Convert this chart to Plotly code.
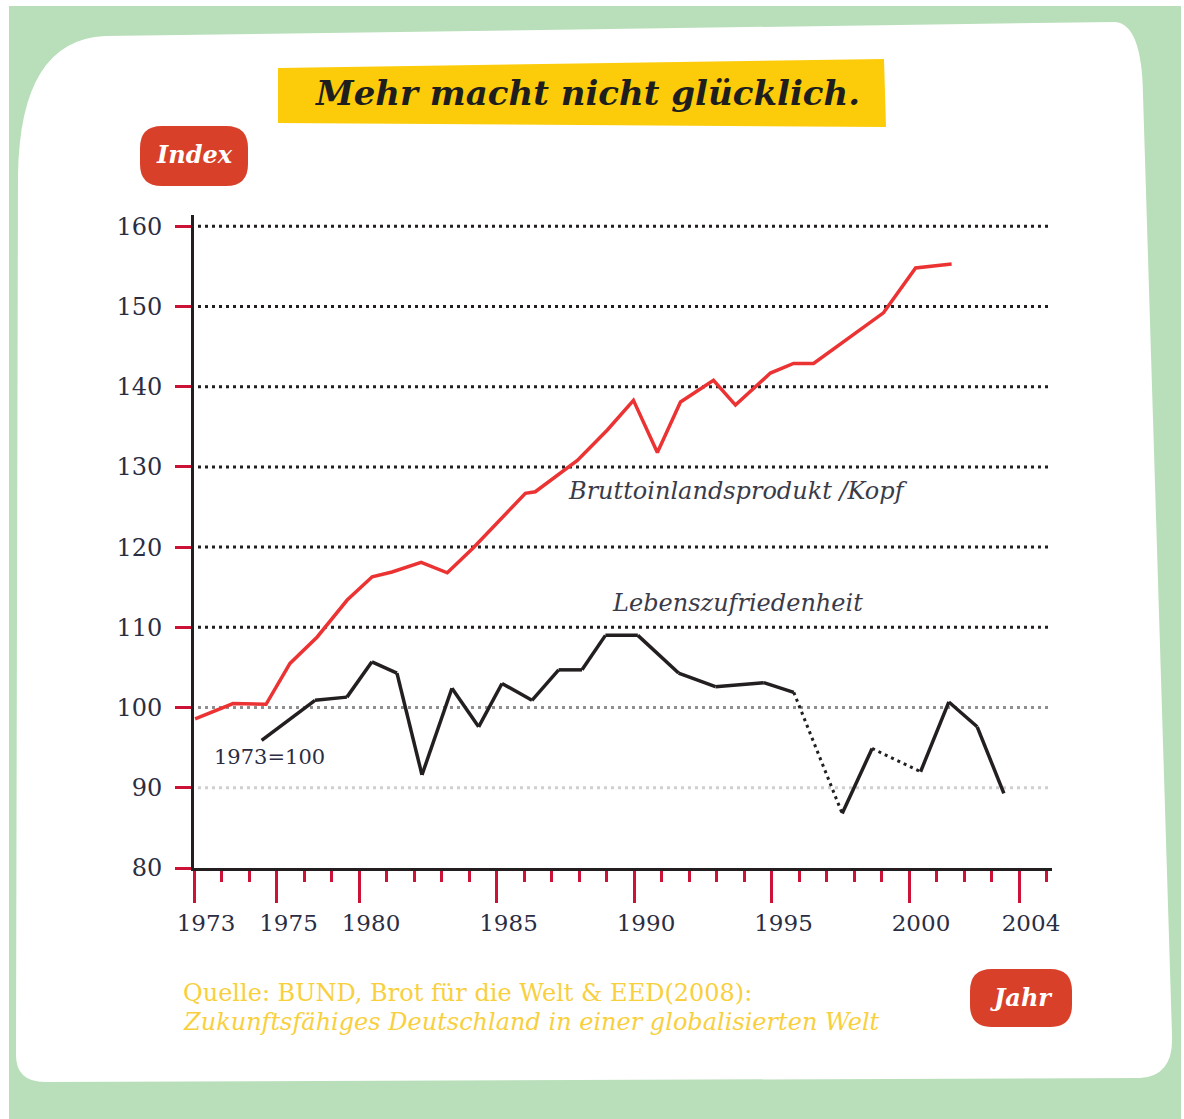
import plotly.graph_objects as go

# ---------------- data ----------------
gdp_years = [1974.04, 1975.42, 1976.62, 1977.49, 1978.48, 1979.57, 1980.48, 1981.2,
             1982.26, 1983.21, 1984.15, 1986.05, 1986.41, 1987.94, 1989.03, 1989.98,
             1990.85, 1991.69, 1992.89, 1993.69, 1994.96, 1995.80, 1996.53, 1997.76,
             1999.07, 2000.24, 2001.55]
gdp_values = [98.6, 100.5, 100.4, 105.5, 108.8, 113.4, 116.3, 116.9,
              118.1, 116.8, 119.9, 126.7, 126.9, 130.8, 134.6, 138.3,
              131.8, 138.1, 140.8, 137.7, 141.7, 142.9, 142.9, 146.0,
              149.2, 154.8, 155.3]

life_years = [1976.46, 1978.40, 1979.56, 1980.47, 1981.38, 1982.29, 1983.38, 1984.35,
              1985.20, 1986.29, 1987.26, 1988.11, 1988.96, 1990.14, 1991.62, 1992.96,
              1994.72, 1995.81, 1997.57, 1998.66, 2000.42, 2001.45, 2002.48, 2003.45]
life_values = [95.9, 100.9, 101.3, 105.7, 104.3, 91.6, 102.4, 97.6,
               103.0, 100.9, 104.7, 104.7, 109.0, 109.0, 104.3, 102.6,
               103.1, 101.9, 86.8, 94.9, 92.0, 100.7, 97.6, 89.3]
# segments (start index) of the life-satisfaction line drawn dotted
life_dotted_from = [17, 19]

x_tick_positions = [1974, 1977, 1980, 1985, 1990, 1995, 2000, 2004]
x_tick_labels = ["1973", "1975", "1980", "1985", "1990", "1995", "2000", "2004"]
y_ticks = [80, 90, 100, 110, 120, 130, 140, 150, 160]
grid_values = [90, 100, 110, 120, 130, 140, 150, 160]

# ---------------- styling ----------------
W_FIG, H_FIG = 1184, 1119
L, R, T, B = 194, 1052, 215, 868
PW, PH = R - L, B - T
GREEN = "#b9dfba"
RED_LINE = "#ec3333"
BLACK = "#231f20"
CRIMSON = "#cc1237"
BADGE = "#d8402a"
YELLOW = "#fccc0a"
SRC_YELLOW = "#f8d03e"
TEXT = "#2b2d42"
FONT = "DejaVu Serif"


def px(xp, yp):
    return f"{(xp - L) / PW:.5f},{(B - yp) / PH:.5f}"


def pxx(xp):
    return (xp - L) / PW


def pxy(yp):
    return (B - yp) / PH


def path_from(points_cmds):
    out = []
    for cmd, pts in points_cmds:
        out.append(cmd + " " + " ".join(px(a, b) for a, b in pts))
    return " ".join(out) + " Z"


def rounded_rect(x0, y0, x1, y1, r):
    return path_from([
        ("M", [(x0 + r, y0)]), ("L", [(x1 - r, y0)]), ("Q", [(x1, y0), (x1, y0 + r)]),
        ("L", [(x1, y1 - r)]), ("Q", [(x1, y1), (x1 - r, y1)]),
        ("L", [(x0 + r, y1)]), ("Q", [(x0, y1), (x0, y1 - r)]),
        ("L", [(x0, y0 + r)]), ("Q", [(x0, y0), (x0 + r, y0)]),
    ])


def rect(x0, y0, x1, y1):
    return path_from([("M", [(x0, y0)]), ("L", [(x1, y0)]), ("L", [(x1, y1)]),
                      ("L", [(x0, y1)])])


fig = go.Figure()

# red GDP line
fig.add_trace(go.Scatter(x=gdp_years, y=gdp_values, mode="lines",
                         line=dict(color=RED_LINE, width=3.5), hoverinfo="skip"))

# black life-satisfaction line: solid parts and dotted parts
solid_x, solid_y, dot_x, dot_y = [], [], [], []
for i in range(len(life_years) - 1):
    seg_x = [life_years[i], life_years[i + 1], None]
    seg_y = [life_values[i], life_values[i + 1], None]
    if i in life_dotted_from:
        dot_x += seg_x
        dot_y += seg_y
    else:
        solid_x += seg_x
        solid_y += seg_y
fig.add_trace(go.Scatter(x=solid_x, y=solid_y, mode="lines", connectgaps=False,
                         line=dict(color=BLACK, width=3.5), hoverinfo="skip"))
fig.add_trace(go.Scatter(x=dot_x, y=dot_y, mode="lines", connectgaps=False,
                         line=dict(color=BLACK, width=3, dash="3px,4px"), hoverinfo="skip"))

shapes = []
# thin white scan margin around the green frame
for x0, y0, x1, y1 in [(0, 0, 9, H_FIG), (0, 0, W_FIG, 6), (1181, 0, W_FIG, H_FIG)]:
    shapes.append(dict(type="path", path=rect(x0, y0, x1, y1), xref="paper", yref="paper",
                       fillcolor="white", line=dict(width=0), layer="below"))
# white card
card = path_from([
    ("M", [(105, 36)]), ("L", [(1115, 22)]), ("Q", [(1142, 24), (1143, 95)]),
    ("L", [(1172, 1035)]), ("Q", [(1174, 1076), (1140, 1078)]),
    ("L", [(45, 1082)]), ("Q", [(16, 1082), (16, 1055)]),
    ("L", [(18, 175)]), ("Q", [(20, 40), (105, 36)]),
])
shapes.append(dict(type="path", path=card, xref="paper", yref="paper",
                   fillcolor="white", line=dict(width=0), layer="below"))
# yellow title banner
banner = path_from([("M", [(278, 68)]), ("L", [(884, 59)]), ("L", [(886, 127)]),
                    ("L", [(278, 123)])])
shapes.append(dict(type="path", path=banner, xref="paper", yref="paper",
                   fillcolor=YELLOW, line=dict(width=0), layer="below"))
# badges
shapes.append(dict(type="path", path=rounded_rect(140, 126, 248, 186, 22),
                   xref="paper", yref="paper", fillcolor=BADGE, line=dict(width=0), layer="below"))
shapes.append(dict(type="path", path=rounded_rect(970, 969, 1072, 1027, 22),
                   xref="paper", yref="paper", fillcolor=BADGE, line=dict(width=0), layer="below"))
# grid lines
grid_colors = {90: "#cfcfcf", 100: "#8f8f8f"}
for g in grid_values:
    shapes.append(dict(type="line", xref="paper", yref="y", x0=4 / PW, x1=(1048 - L) / PW,
                       y0=g, y1=g, layer="below",
                       line=dict(color=grid_colors.get(g, BLACK), width=3, dash="3px,4px")))

C = dict(xanchor="center", yanchor="middle", showarrow=False)
annotations = [
    dict(text="Mehr macht nicht glücklich.", xref="paper", yref="paper",
         x=pxx(587), y=pxy(93), **C,
         font=dict(family=FONT, size=34, color="#1e1e1e", weight="bold", style="italic")),
    dict(text="Index", xref="paper", yref="paper", x=pxx(194), y=pxy(154), **C,
         font=dict(family=FONT, size=24, color="white", weight="bold", style="italic")),
    dict(text="Jahr", xref="paper", yref="paper", x=pxx(1021), y=pxy(998), **C,
         font=dict(family=FONT, size=24, color="white", weight="bold", style="italic")),
    dict(text="Quelle: BUND, Brot für die Welt &amp; EED(2008):",
         xref="paper", yref="paper", x=pxx(181), y=pxy(993),
         xanchor="left", yanchor="middle", showarrow=False,
         font=dict(family=FONT, size=24, color=SRC_YELLOW)),
    dict(text="Zukunftsfähiges Deutschland in einer globalisierten Welt",
         xref="paper", yref="paper", x=pxx(181), y=pxy(1022),
         xanchor="left", yanchor="middle", showarrow=False,
         font=dict(family=FONT, size=24, color=SRC_YELLOW, style="italic")),
    dict(text="Bruttoinlandsprodukt /Kopf", x=1993.78, y=127.0, xref="x", yref="y", **C,
         font=dict(family=FONT, size=24, color="#3b3b48", style="italic")),
    dict(text="Lebenszufriedenheit", x=1993.78, y=113.0, xref="x", yref="y", **C,
         font=dict(family=FONT, size=24, color="#3b3b48", style="italic")),
    dict(text="1973=100", x=1976.76, y=93.8, xref="x", yref="y", **C,
         font=dict(family=FONT, size=21, color=TEXT)),
]

fig.update_layout(
    width=W_FIG, height=H_FIG,
    margin=dict(l=L, r=W_FIG - R, t=T, b=H_FIG - B, pad=0),
    paper_bgcolor=GREEN, plot_bgcolor="rgba(0,0,0,0)",
    showlegend=False, shapes=shapes, annotations=annotations,
    xaxis=dict(range=[1974, 2005.2], showgrid=False, zeroline=False,
               showline=True, linecolor=BLACK, linewidth=3,
               tickmode="array", tickvals=x_tick_positions, ticktext=x_tick_labels,
               ticks="outside", ticklen=32, tickwidth=3, tickcolor=CRIMSON,
               ticklabelshift=12,
               minor=dict(tickmode="linear", tick0=1974, dtick=1, ticks="outside",
                          ticklen=11, tickwidth=3, tickcolor=CRIMSON, showgrid=False),
               tickfont=dict(family=FONT, size=23, color=TEXT)),
    yaxis=dict(range=[80, 161.4], showgrid=False, zeroline=False,
               showline=True, linecolor=BLACK, linewidth=3,
               tickmode="array", tickvals=y_ticks,
               ticks="outside", ticklen=16, tickwidth=3, tickcolor=CRIMSON,
               ticklabelstandoff=8,
               tickfont=dict(family=FONT, size=24, color=TEXT)),
)

fig.write_html("out.html",
               config={"displayModeBar": False},
               post_script="document.body.style.margin='0';"
                           "document.body.style.background='white';")
